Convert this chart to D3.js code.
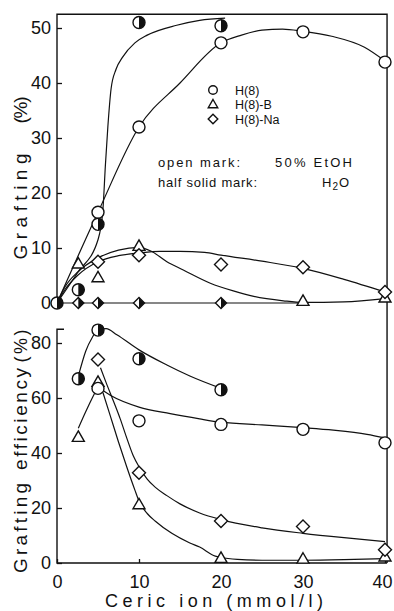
<!DOCTYPE html>
<html><head><meta charset="utf-8">
<script src="https://cdn.jsdelivr.net/npm/d3@7"></script>
<style>html,body{margin:0;padding:0;background:#fff;} svg{display:block;font-family:"Liberation Sans",Arial,sans-serif;}</style>
</head><body><svg id="c" width="394" height="611"></svg>
<script>
// ---------- axis ticks ----------
const xTicks = [0, 10, 20, 30, 40];
const graftTicks = [0, 10, 20, 30, 40, 50];
const effTicks = [0, 20, 40, 60, 80];
const legendLabels = ["H(8)", "H(8)-B", "H(8)-Na"];

// ---------- measured points: grafting (%) ----------
const h8EtohConc = [5, 10, 20, 30, 40];
const h8EtohGraft = [16.5, 32, 47.3, 49.3, 43.8];
const h8H2oConc = [0, 2.6, 5, 10, 20];
const h8H2oGraft = [0, 2.4, 14.3, 51, 50.4];
const h8bEtohConc = [2.6, 5, 10, 30, 40];
const h8bEtohGraft = [7, 4.5, 10.2, 0.2, 0.8];
const h8naEtohConc = [5, 10, 20, 30, 40];
const h8naEtohGraft = [7.5, 8.7, 7, 6.5, 2];
const h8naH2oConc = [2.6, 5, 10, 20];
const h8naH2oGraft = [0, 0, 0, 0];

// ---------- measured points: grafting efficiency (%) ----------
const h8EtohEffConc = [5, 10, 20, 30, 40];
const h8EtohEff = [63.5, 51.7, 50.4, 48.6, 43.7];
const h8H2oEffConc = [2.6, 5, 10, 20];
const h8H2oEff = [67, 84.7, 74.3, 63];
const h8bEtohEffConc = [2.6, 5, 10, 20, 30, 40];
const h8bEtohEff = [45.5, 65.5, 21, 1.5, 1.2, 2];
const h8naEtohEffConc = [5, 10, 20, 30, 40];
const h8naEtohEff = [74, 32.8, 15.3, 13.3, 4.8];

// ---------- hand-drawn fitted curves ----------
const fitGraftH8H2oX = [0, 2.5, 5, 5.6, 5.9, 6.2, 6.6, 7.2, 8, 9.5, 11, 14.6, 17.4, 20.5];
const fitGraftH8H2oY = [0, 5.5, 11.5, 17, 25, 32, 39, 42.5, 44.7, 47.3, 48.7, 50.5, 51.4, 51.8];
const fitGraftH8EtohX = [0, 5, 10, 15, 20, 22.5, 25, 27.5, 30, 33.5, 37.5, 40];
const fitGraftH8EtohY = [0, 16.5, 32, 40, 47.3, 48.7, 49.6, 49.8, 49.4, 48.5, 46.5, 44];
const fitGraftH8bX = [0, 1, 2.5, 5, 7.5, 10, 11.5, 13.4, 15.4, 18.7, 21.5, 24, 27.6, 30, 35, 40];
const fitGraftH8bY = [0, 3, 5.6, 8.2, 9.6, 10.1, 9.4, 7.5, 6.0, 3.6, 2.2, 1.2, 0.4, 0.1, 0.2, 0.8];
const fitGraftH8naX = [0, 1, 2.5, 5, 7.5, 10, 12.5, 15, 18, 20, 25, 30, 35, 40];
const fitGraftH8naY = [0, 2.5, 5, 7.5, 8.6, 9.1, 9.4, 9.4, 9.2, 8.7, 7.6, 6.3, 4.3, 2.0];
const fitGraftH8naH2oX = [0, 30];
const fitGraftH8naH2oY = [0, 0];

const fitEffH8H2oX = [2.7, 3.5, 4.3, 5, 6, 7.3, 10, 13.4, 16.2, 20];
const fitEffH8H2oY = [69, 77, 82, 84.8, 85.2, 83, 77.5, 72, 68, 63.5];
const fitEffH8EtohX = [5, 6.5, 10, 13.8, 17.4, 20, 25, 30, 33.7, 37.8, 40];
const fitEffH8EtohY = [64, 61, 56.7, 54.3, 52.4, 51.2, 50.2, 49.2, 48.3, 46.8, 45.5];
const fitEffH8bRiseX = [2.6, 3.5, 4.3, 5];
const fitEffH8bRiseY = [49, 55, 60, 64];
const fitEffH8bFallX = [5.6, 6.5, 7.5, 8.5, 9.5, 10, 11, 12, 14, 16.2, 17.4, 19.3, 20, 22, 25, 30, 35, 40];
const fitEffH8bFallY = [62, 53.5, 44, 35, 26.5, 22.5, 18, 15.2, 10.8, 7.3, 5.8, 2.5, 2, 1.3, 1, 1, 1.2, 1.6];
const fitEffH8naX = [5.3, 6, 7, 7.7, 8.5, 9.3, 10, 11, 12, 13.4, 15, 17.4, 20, 25, 30, 35, 40];
const fitEffH8naY = [71, 65.5, 58, 52.5, 45.5, 39, 35, 30.5, 27.5, 24.5, 21.5, 18.2, 15.8, 12.8, 10.8, 9.2, 7.8];

// ---------- scales ----------
const x = d3.scaleLinear([0, 40], [57, 385]);
const yG = d3.scaleLinear([0, 50], [303, 28]);
const yE = d3.scaleLinear([0, 80], [563, 343]);

const svg = d3.select("#c");
svg.append("rect").attr("width", 394).attr("height", 611).attr("fill", "#fff");

const ink = "#111";

// ---------- frames ----------
svg.append("path")
  .attr("d", `M${x(0)},${yG(-0.6)} V${yG(52.5)} H${x(40.25)} V${yE(0)}`)
  .attr("fill", "none").attr("stroke", ink).attr("stroke-width", 1.4);
svg.append("path")
  .attr("d", `M${x(0) + 7},${yE(85)} H${x(0)} V${yE(0)} H${x(40.25)}`)
  .attr("fill", "none").attr("stroke", ink).attr("stroke-width", 1.4);

// ---------- axes ----------
function styleAxis(g) {
  g.select(".domain").remove();
  g.selectAll(".tick line").attr("stroke", ink).attr("stroke-width", 1.3);
  g.selectAll(".tick text").attr("fill", ink).attr("font-size", 18)
    .attr("font-family", '"Liberation Sans", Arial, sans-serif');
}
svg.append("g").attr("transform", `translate(${x(0)},0)`)
  .call(d3.axisLeft(yG).tickValues(graftTicks).tickSizeInner(-5).tickSizeOuter(0).tickPadding(6))
  .call(styleAxis);
svg.append("g").attr("transform", `translate(${x(0)},0)`)
  .call(d3.axisLeft(yE).tickValues(effTicks).tickSizeInner(-5).tickSizeOuter(0).tickPadding(6))
  .call(styleAxis);
svg.append("g").attr("transform", `translate(0,${yE(0)})`)
  .call(d3.axisBottom(x).tickValues(xTicks).tickSizeInner(-4).tickSizeOuter(0).tickPadding(12))
  .call(styleAxis)
  .call(g => g.selectAll(".tick text").filter(d => d === 40).attr("dx", -3));

// ---------- fitted curves ----------
function fitLine(xs, ys, yScale) {
  const pts = xs.map((v, i) => [x(v), yScale(ys[i])]);
  svg.append("path").attr("d", d3.line().curve(d3.curveMonotoneX)(pts))
    .attr("fill", "none").attr("stroke", ink).attr("stroke-width", 1.2);
}
fitLine(fitGraftH8naH2oX, fitGraftH8naH2oY, yG);
fitLine(fitGraftH8H2oX, fitGraftH8H2oY, yG);
fitLine(fitGraftH8EtohX, fitGraftH8EtohY, yG);
fitLine(fitGraftH8bX, fitGraftH8bY, yG);
fitLine(fitGraftH8naX, fitGraftH8naY, yG);
fitLine(fitEffH8H2oX, fitEffH8H2oY, yE);
fitLine(fitEffH8EtohX, fitEffH8EtohY, yE);
fitLine(fitEffH8bRiseX, fitEffH8bRiseY, yE);
fitLine(fitEffH8bFallX, fitEffH8bFallY, yE);
fitLine(fitEffH8naX, fitEffH8naY, yE);

// ---------- markers ----------
const SW = 1.4;
function circleMark(cx, cy, r, half) {
  svg.append("circle").attr("cx", cx).attr("cy", cy).attr("r", r)
    .attr("fill", "#fff").attr("stroke", ink).attr("stroke-width", SW);
  if (half) svg.append("path")
    .attr("d", `M${cx},${cy - r} A${r},${r} 0 0 1 ${cx},${cy + r} Z`).attr("fill", ink);
}
function triMark(cx, cy, s) {
  const h = s * Math.sqrt(3) / 2;
  svg.append("path")
    .attr("d", `M${cx},${cy - h * 2 / 3} L${cx + s / 2},${cy + h / 3} L${cx - s / 2},${cy + h / 3} Z`)
    .attr("fill", "#fff").attr("stroke", ink).attr("stroke-width", SW).attr("stroke-linejoin", "miter");
}
function diaMark(cx, cy, r, half) {
  svg.append("path")
    .attr("d", `M${cx},${cy - r} L${cx + r},${cy} L${cx},${cy + r} L${cx - r},${cy} Z`)
    .attr("fill", "#fff").attr("stroke", ink).attr("stroke-width", SW);
  if (half) svg.append("path")
    .attr("d", `M${cx},${cy - r} L${cx + r},${cy} L${cx},${cy + r} Z`).attr("fill", ink);
}
function series(xs, ys, yScale, kind, half) {
  xs.forEach((v, i) => {
    const cx = x(v), cy = yScale(ys[i]);
    if (kind === "c") circleMark(cx, cy, 6, half);
    else if (kind === "t") triMark(cx, cy, 12);
    else diaMark(cx, cy, half ? 5.5 : 6.5, half);
  });
}
// top panel
series(h8naH2oConc, h8naH2oGraft, yG, "d", true);
series(h8bEtohConc, h8bEtohGraft, yG, "t", false);
series(h8naEtohConc, h8naEtohGraft, yG, "d", false);
series(h8EtohConc, h8EtohGraft, yG, "c", false);
series(h8H2oConc, h8H2oGraft, yG, "c", true);
// bottom panel
series(h8bEtohEffConc, h8bEtohEff, yE, "t", false);
series(h8EtohEffConc, h8EtohEff, yE, "c", false);
series(h8naEtohEffConc, h8naEtohEff, yE, "d", false);
series(h8H2oEffConc, h8H2oEff, yE, "c", true);

// ---------- legend ----------
const legY = [90, 104.5, 119];
circleMark(213, legY[0], 4.3, false);
triMark(213, legY[1] + 0.5, 9.5);
diaMark(213, legY[2], 4.8, false);
legendLabels.forEach((t, i) => {
  svg.append("text").attr("x", 235).attr("y", legY[i] + 4.5).attr("font-size", 12.5)
    .attr("fill", ink).text(t);
});
function txt(t, x0, y0, len, size) {
  return svg.append("text").attr("x", x0).attr("y", y0).attr("font-size", size)
    .attr("fill", ink).attr("textLength", len).attr("lengthAdjust", "spacing").text(t);
}
txt("open mark:", 158, 167, 82, 13);
txt("50% EtOH", 275, 167, 77, 13);
txt("half solid mark:", 158, 187, 99, 13);
const h2o = svg.append("text").attr("x", 322).attr("y", 187).attr("font-size", 13).attr("fill", ink);
h2o.append("tspan").text("H");
h2o.append("tspan").attr("dy", 3).attr("font-size", 10).attr("dx", 1).text("2");
h2o.append("tspan").attr("dy", -3).attr("dx", 1).text("O");

// ---------- axis titles ----------
function vtxt(t, cx, cy, len, size) {
  svg.append("text").attr("transform", `translate(${cx},${cy}) rotate(-90)`)
    .attr("text-anchor", "middle").attr("font-size", size).attr("fill", ink)
    .attr("textLength", len).attr("lengthAdjust", "spacing").text(t);
}
vtxt("Grafting", 26.5, 206.5, 106, 19);
vtxt("(%)", 26.5, 110, 27, 19);
vtxt("Grafting", 26.5, 528, 90, 19);
vtxt("efficiency", 26.5, 419, 102, 19);
vtxt("(%)", 26.5, 346, 33, 18);

svg.append("text").attr("x", 105).attr("y", 607).attr("font-size", 18).attr("fill", ink)
  .attr("textLength", 218).attr("lengthAdjust", "spacing").text("Ceric ion (mmol/l)");
</script></body></html>
